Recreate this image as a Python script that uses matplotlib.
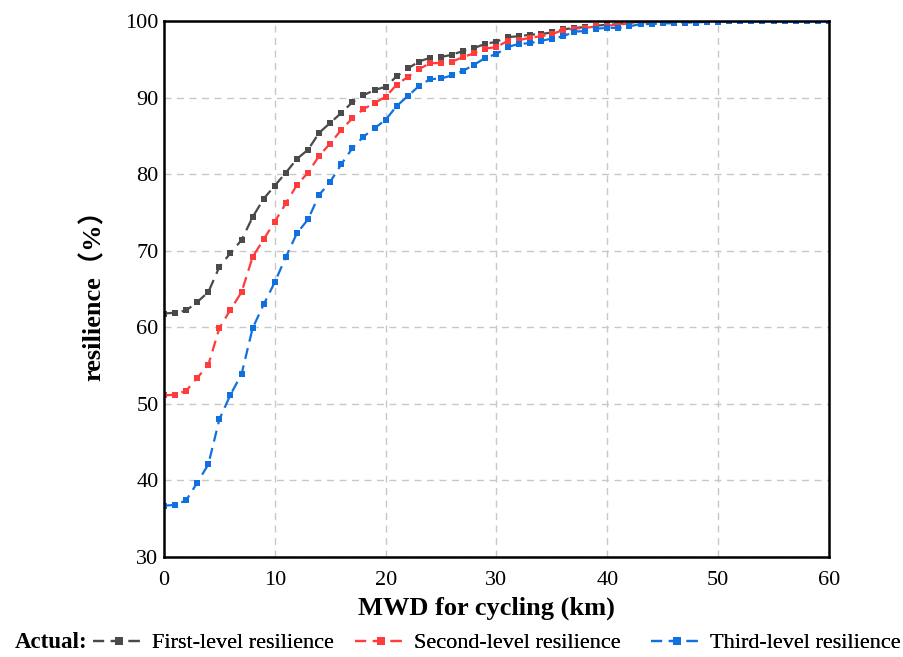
import matplotlib
matplotlib.use("Agg")
import matplotlib.pyplot as plt
import numpy as np

plt.rcParams['font.family'] = ['Liberation Serif', 'Noto Sans CJK SC', 'DejaVu Sans']

x_km = list(range(0, 61))

first_level = [61.8, 61.9, 62.2, 63.3, 64.6, 67.9, 69.7, 71.4, 74.4, 76.8,
               78.5, 80.2, 82.0, 83.2, 85.4, 86.7, 88.0, 89.4, 90.3, 91.0,
               91.4, 92.8, 93.8, 94.7, 95.2, 95.3, 95.6, 96.1, 96.5, 97.0,
               97.3, 97.9, 98.0, 98.2, 98.3, 98.5, 98.9, 99.1, 99.2, 99.4,
               99.5, 99.6, 99.8, 99.9, 100, 100, 100, 100, 100, 100,
               100, 100, 100, 100, 100, 100, 100, 100, 100, 100, 100]

second_level = [51.1, 51.2, 51.7, 53.4, 55.1, 59.9, 62.3, 64.6, 69.2, 71.5,
                73.8, 76.2, 78.6, 80.2, 82.4, 84.0, 85.8, 87.3, 88.5, 89.3,
                90.1, 91.7, 92.7, 93.7, 94.5, 94.5, 94.7, 95.3, 95.8, 96.4,
                96.6, 97.4, 97.5, 97.8, 98.0, 98.3, 98.8, 99.0, 99.1, 99.3,
                99.4, 99.5, 99.7, 99.8, 99.9, 100, 100, 100, 100, 100,
                100, 100, 100, 100, 100, 100, 100, 100, 100, 100, 100]

third_level = [36.7, 36.8, 37.4, 39.7, 42.1, 48.0, 51.2, 53.9, 59.9, 63.0,
               65.9, 69.2, 72.3, 74.1, 77.3, 79.0, 81.3, 83.4, 84.9, 86.0,
               87.1, 88.9, 90.2, 91.5, 92.4, 92.5, 92.9, 93.5, 94.3, 95.2,
               95.7, 96.6, 97.0, 97.1, 97.4, 97.7, 98.0, 98.6, 98.7, 99.0,
               99.1, 99.1, 99.3, 99.6, 99.6, 99.7, 99.7, 99.8, 99.8, 99.9,
               99.9, 100, 100, 100, 100, 100, 100, 100, 100, 100, 100]

series_labels = ['First-level resilience', 'Second-level resilience', 'Third-level resilience']
series_colors = ['#4a4a4a', '#ff3b3b', '#1070e0']
x_ticks = [0, 10, 20, 30, 40, 50, 60]
y_ticks = [30, 40, 50, 60, 70, 80, 90, 100]

fig = plt.figure(figsize=(9.04, 6.57), dpi=100)
ax = fig.add_axes([164/904, 1-557/657, (829-164)/904, (557-21)/657])

handles = []
for ys, lab, col in zip([first_level, second_level, third_level], series_labels, series_colors):
    h, = ax.plot(x_km, ys, linestyle=(0, (5, 3)), color=col, linewidth=1.6,
                 marker='s', markersize=3.8, markeredgewidth=0, label=lab)
    handles.append(h)

ax.set_xlim(0, 60)
ax.set_ylim(30, 100)
ax.set_xticks(x_ticks)
ax.set_yticks(y_ticks)
ax.tick_params(axis='x', length=0, labelsize=16, pad=10)
ax.tick_params(axis='y', length=0, labelsize=16, pad=4)
ax.grid(True, color='#c8c8c8', linestyle=(0, (5, 4)), linewidth=1.0)
ax.set_axisbelow(True)
for s in ax.spines.values():
    s.set_linewidth(1.8)
    s.set_color('black')

ax.set_xlabel('MWD for cycling (km)', fontsize=19, fontweight='bold')
ax.xaxis.set_label_coords((486 - 164) / 665, -0.074)
ax.set_ylabel('resilience（%）', fontsize=19, fontweight='bold', labelpad=14)

fig.text(15/904, 1-643/657, 'Actual:', fontsize=16.5, fontweight='bold', va='center', ha='left')
legend_x = [93, 355, 651]
for h, lab, lx in zip(handles, series_labels, legend_x):
    leg = fig.legend([h], [lab], loc='center left', bbox_to_anchor=(lx/904, 1-643/657),
                     frameon=False, fontsize=16, handlelength=2.3, handletextpad=0.35,
                     borderaxespad=0, borderpad=0, numpoints=1, markerscale=1.5)
    fig.add_artist(leg)

fig.savefig('out.png', dpi=100)
